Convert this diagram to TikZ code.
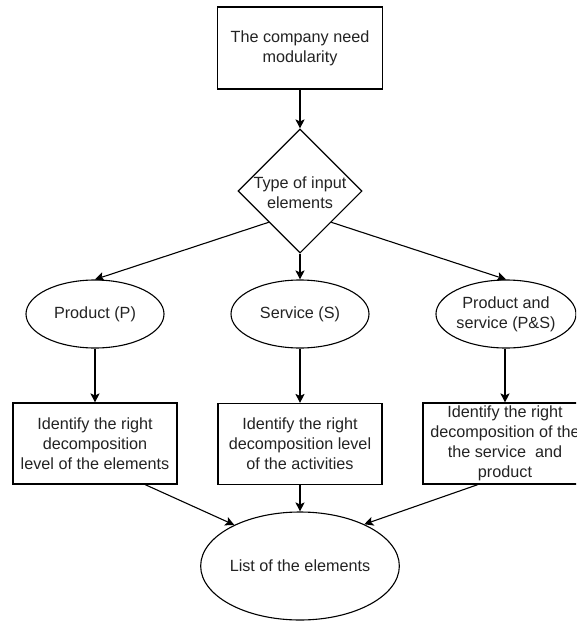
\documentclass[tikz,border=0pt]{standalone}
\usepackage{fontspec}
\setmainfont{Liberation Sans}
\usetikzlibrary{shapes.geometric,arrows.meta,calc}
\definecolor{txtcol}{RGB}{35,35,35}
\tikzset{
  base/.style={draw=black, line width=1.1pt, text=txtcol, align=center,
    font=\fontsize{16.2}{19.8}\selectfont, inner sep=0pt},
  boxnode/.style={base, rectangle, minimum width=164pt, minimum height=81pt},
  ellnode/.style={base, ellipse, minimum width=138pt, minimum height=68pt},
  dianode/.style={base, diamond, minimum width=124pt, minimum height=124pt},
  txtnode/.style={text=txtcol, align=center, font=\fontsize{16.2}{19.8}\selectfont, inner sep=0pt},
  conn/.style={line width=1.1pt, -{Stealth[length=9pt,width=9pt,inset=2pt]}}
}
\begin{document}
\begin{tikzpicture}[x=1pt,y=-1pt]
\useasboundingbox (0,0) rectangle (576,621);
\clip (0,0) rectangle (576,621);
\fill[white] (0,0) rectangle (576,621);

\node[boxnode, minimum width=165pt, minimum height=82pt] (top) at (300,48) {The company need\\modularity};
\node[dianode] (d) at (300,191) {};
\node[txtnode] (dt) at (300,193) {Type of input\\elements};

\node[ellnode] (p) at (95,314) {Product (P)};
\node[ellnode] (s) at (300,314) {Service (S)};
\node[ellnode, minimum width=140pt] (ps) at (506,314) {Product and\\service (P\&S)};

\node[boxnode] (lb) at (95,443.5) {Identify the right\\decomposition\\level of the elements};
\node[boxnode] (mb) at (300,444) {Identify the right\\decomposition level\\of the activities};
\node[boxnode] (rb) at (505,443.5) {Identify the right\\decomposition of the\\the service~ and\\product};

\node[ellnode, minimum width=166pt, minimum height=108pt] (bot) at (300,566) {List of the elements};

\draw[conn] (top.south) -- (d.north);
\draw[conn] (d.south west) -- (p.north);
\draw[conn] (d.south) -- (s.north);
\draw[conn] (d.south east) -- (ps.north);
\draw[conn] (p.south) -- (lb.north);
\draw[conn] (s.south) -- (mb.north);
\draw[conn] (rb.north |- ps.south) -- (rb.north);
\draw[conn] ($(lb.south)+(50,0)$) -- (bot.148);
\draw[conn] (mb.south) -- (bot.north);
\draw[conn] ($(rb.south)+(-27,0)$) -- (bot.33);
\end{tikzpicture}
\end{document}
